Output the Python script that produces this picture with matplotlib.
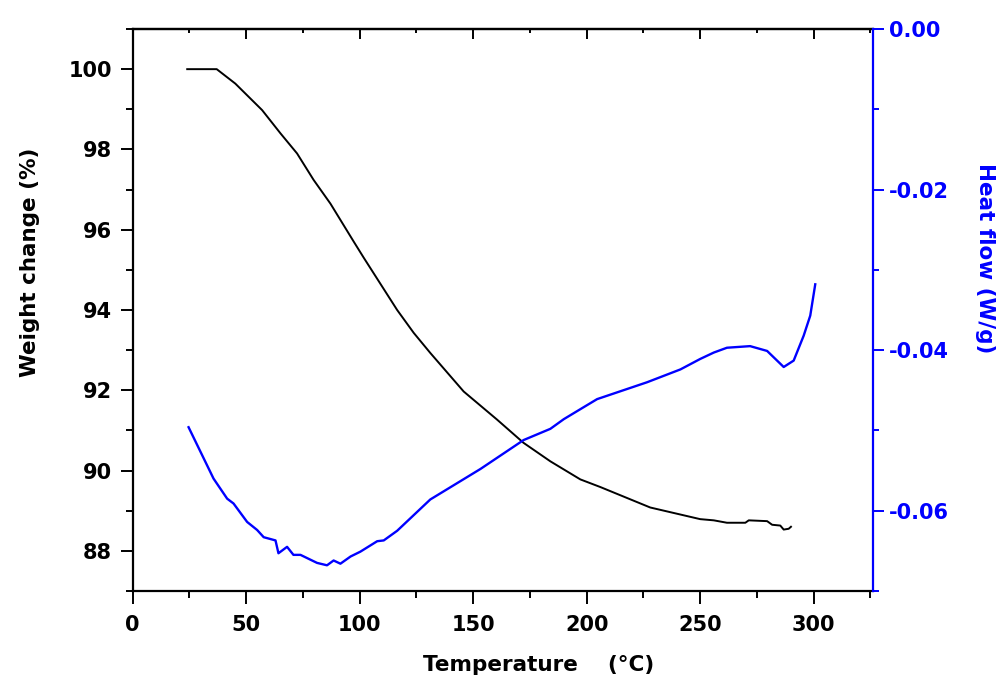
import matplotlib
matplotlib.use("Agg")
import matplotlib.pyplot as plt
from matplotlib.ticker import MultipleLocator

plt.rcParams['font.family'] = ['DejaVu Sans']
plt.rcParams['font.weight'] = 'bold'

# weight change (TGA)
temp_w = [24, 37, 45.2, 57.0, 65.1, 72.4, 79.7, 87.1, 97.4, 101.8, 116.5, 123.8,
          131.1, 145.8, 160.5, 172.2, 184, 197.2, 206, 228, 250, 256, 261.8, 269.9,
          271.4, 279.5, 281.7, 285.3, 286.8, 289, 290]
weight = [100, 100, 99.64, 98.98, 98.40, 97.90, 97.24, 96.65, 95.70, 95.30, 94.0, 93.43,
          92.93, 91.97, 91.27, 90.69, 90.23, 89.78, 89.59, 89.08, 88.79, 88.76, 88.70, 88.70,
          88.76, 88.74, 88.65, 88.63, 88.53, 88.55, 88.60]

# heat flow (DSC)
temp_h = [24.6, 35.6, 41.6, 44.4, 50.4, 54.8, 57.7, 62.9, 64.2, 68, 70.8, 73.9, 81.2,
          85.6, 88.5, 91.5, 96, 100.3, 107.7, 110.6, 116.5, 131.1, 153.2, 172.2, 184,
          189.9, 198.7, 204.6, 226.6, 241.3, 250, 256, 261.8, 272, 279.5, 286.8, 291.2,
          295.6, 298.5, 300.7]
heat = [-0.0496, -0.0560, -0.0585, -0.0591, -0.0614, -0.0624, -0.0633, -0.0637, -0.0653,
        -0.0645, -0.0655, -0.0655, -0.0665, -0.0668, -0.0662, -0.0666, -0.0657, -0.0651,
        -0.0638, -0.0637, -0.0625, -0.0586, -0.0548, -0.0512, -0.0498, -0.0486, -0.0471,
        -0.0461, -0.0440, -0.0424, -0.0411, -0.0403, -0.0397, -0.0395, -0.0401, -0.0421,
        -0.0413, -0.0382, -0.0357, -0.0318]

blue = '#0000ff'

fig = plt.figure(figsize=(10.01, 6.86), dpi=100)
ax = fig.add_axes([0.1326, 0.1385, 0.7392, 0.8192])
ax2 = ax.twinx()

ax.plot(temp_w, weight, color='black', lw=1.4)
ax2.plot(temp_h, heat, color=blue, lw=1.7)

ax.set_xlim(0, 326)
ax.set_ylim(87, 101)
ax2.set_ylim(-0.07, 0)

ax.xaxis.set_major_locator(MultipleLocator(50))
ax.xaxis.set_minor_locator(MultipleLocator(25))
ax.yaxis.set_major_locator(MultipleLocator(2))
ax.yaxis.set_minor_locator(MultipleLocator(1))
ax2.yaxis.set_major_locator(MultipleLocator(0.02))
ax2.yaxis.set_minor_locator(MultipleLocator(0.01))
ax2.yaxis.set_major_formatter(plt.FuncFormatter(lambda v, p: '%.2f' % v))

for s in ['left', 'bottom', 'top']:
    ax.spines[s].set_linewidth(1.6)
ax.spines['right'].set_visible(False)
for s in ['left', 'bottom', 'top']:
    ax2.spines[s].set_visible(False)
ax2.spines['right'].set_color(blue)
ax2.spines['right'].set_linewidth(1.6)

ax.tick_params(axis='both', which='major', direction='out', length=9, width=1.4,
               labelsize=15, pad=6)
ax.tick_params(axis='both', which='minor', direction='out', length=5, width=1.4)
ax.tick_params(axis='x', which='major', pad=8)
ax2.tick_params(axis='y', which='major', direction='out', length=8, width=1.4,
                labelsize=15, colors=blue, pad=4)
ax2.tick_params(axis='y', which='minor', direction='out', length=4, width=1.4, colors=blue)

# inward ticks on the top spine
top = ax.secondary_xaxis('top')
top.xaxis.set_major_locator(MultipleLocator(50))
top.xaxis.set_minor_locator(MultipleLocator(25))
top.tick_params(which='major', direction='in', length=7, width=1.4, labeltop=False)
top.tick_params(which='minor', direction='in', length=3, width=1.4)
top.spines['top'].set_linewidth(1.6)

fig.text(0.030, 0.617, 'Weight change (%)', rotation=90, ha='center', va='center',
         fontsize=15.5, fontweight='bold')
fig.text(0.984, 0.624, 'Heat flow (W/g)', rotation=270, ha='center', va='center',
         fontsize=15.5, fontweight='bold', color=blue)
fig.text(0.538, 0.031, 'Temperature    (\u00b0C)', ha='center', va='center',
         fontsize=15.5, fontweight='bold')

fig.savefig('out.png', dpi=100)
